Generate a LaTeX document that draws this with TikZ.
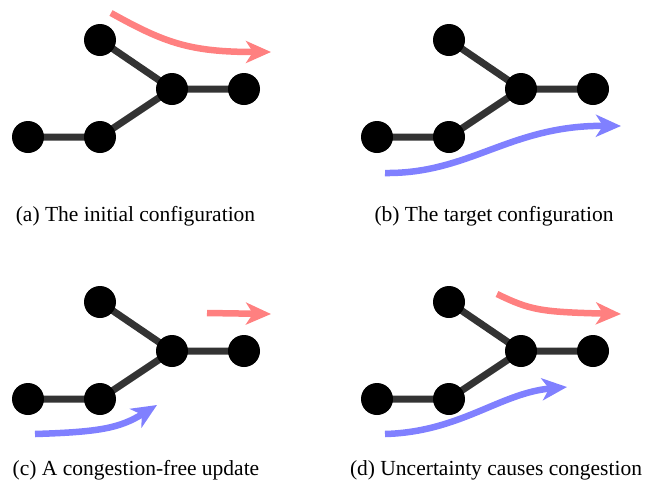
\documentclass[tikz,border=0pt]{standalone}
\usepackage{fontspec}
\setmainfont{Liberation Serif}
\usetikzlibrary{arrows.meta}
\definecolor{flowred}{HTML}{FF8080}
\definecolor{flowblue}{HTML}{8080FF}
\definecolor{edgegray}{HTML}{333333}
\tikzset{
  vtx/.style={circle, fill=black, inner sep=0pt, minimum size=32pt},
  linkedge/.style={draw=edgegray, line width=7pt},
  flowline/.style={line width=6.5pt, -{Stealth[length=25pt, width=22pt, inset=7pt]}},
  redflow/.style={flowline, draw=flowred},
  blueflow/.style={flowline, draw=flowblue},
  captext/.style={anchor=base, font=\fontsize{21.5pt}{24pt}\selectfont, inner sep=0pt}
}
\begin{document}
\begin{tikzpicture}[x=1pt, y=-1pt]
\useasboundingbox (0,0) rectangle (649,483);
\begin{scope}[shift={(0,0)}]
\coordinate (a1) at (28,137);
\coordinate (a2) at (100,137);
\coordinate (a3) at (100,40);
\coordinate (a4) at (172,89);
\coordinate (a5) at (244,89);
\end{scope}
\begin{scope}[shift={(349,0)}]
\coordinate (b1) at (28,137);
\coordinate (b2) at (100,137);
\coordinate (b3) at (100,40);
\coordinate (b4) at (172,89);
\coordinate (b5) at (244,89);
\end{scope}
\begin{scope}[shift={(0,262)}]
\coordinate (c1) at (28,137);
\coordinate (c2) at (100,137);
\coordinate (c3) at (100,40);
\coordinate (c4) at (172,89);
\coordinate (c5) at (244,89);
\end{scope}
\begin{scope}[shift={(349,262)}]
\coordinate (d1) at (28,137);
\coordinate (d2) at (100,137);
\coordinate (d3) at (100,40);
\coordinate (d4) at (172,89);
\coordinate (d5) at (244,89);
\end{scope}
\foreach \p in {a,b,c,d}{
  \draw[linkedge] (\p1) -- (\p2) -- (\p4) -- (\p5);
  \draw[linkedge] (\p3) -- (\p4);
  \foreach \i in {1,...,5}{ \node[vtx] (\p\i n) at (\p\i) {}; }
}
% flows
\coordinate (ra0) at (111,13); \coordinate (ra1) at (271,52);
\draw[redflow] (ra0) .. controls (165,43) and (190,52) .. (ra1);
\coordinate (bb0) at (385,173); \coordinate (bb1) at (621,126);
\draw[blueflow] (bb0) .. controls (470,174) and (510,125) .. (bb1);
\coordinate (rc0) at (207,313); \coordinate (rc1) at (271,314);
\draw[redflow] (rc0) -- (rc1);
\coordinate (bc0) at (35,434); \coordinate (bc1) at (157,405);
\draw[blueflow] (bc0) .. controls (100,432) and (120,428) .. (bc1);
\coordinate (rd0) at (497,294); \coordinate (rd1) at (621,314);
\draw[redflow] (rd0) .. controls (530,310) and (540,312) .. (rd1);
\coordinate (bd0) at (385,434); \coordinate (bd1) at (567,387);
\draw[blueflow] (bd0) .. controls (460,432) and (500,393) .. (bd1);
% captions
\node[captext] (capa) at (135.5,221) {(a) The initial configuration};
\node[captext] (capb) at (494,221) {(b) The target configuration};
\node[captext] (capc) at (136,475) {(c) A congestion-free update};
\node[captext] (capd) at (496,475) {(d) Uncertainty causes congestion};
\end{tikzpicture}
\end{document}
